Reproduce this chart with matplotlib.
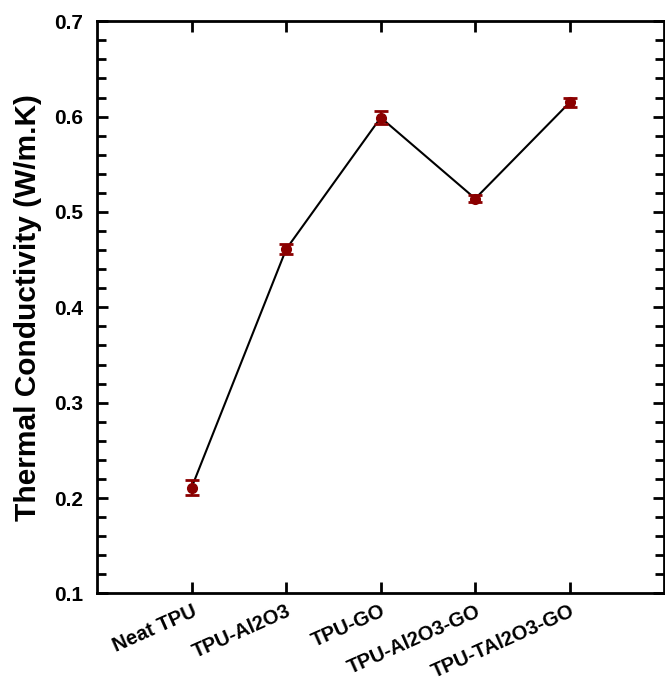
import matplotlib.pyplot as plt
import numpy as np
from matplotlib.ticker import MultipleLocator

plt.rcParams['font.family'] = ['Liberation Sans', 'DejaVu Sans']
plt.rcParams['font.weight'] = 'bold'

samples = ['Neat TPU', 'TPU-Al2O3', 'TPU-GO', 'TPU-Al2O3-GO', 'TPU-TAl2O3-GO']
conductivity = [0.211, 0.461, 0.599, 0.514, 0.615]
error = [0.008, 0.005, 0.007, 0.004, 0.005]

x = np.arange(1, len(samples) + 1)

fig = plt.figure(figsize=(6.65, 6.86), dpi=100)
ax = fig.add_axes([0.146, 0.135, 0.853, 0.834])

ax.plot(x, conductivity, color='black', lw=1.5, zorder=2)
ax.errorbar(x, conductivity, yerr=error, fmt='o', color='#8b0000', ms=7,
            capsize=5, capthick=2, elinewidth=1.5, zorder=3)

ax.set_xlim(0, 6)
ax.set_ylim(0.1, 0.7)
ax.set_xticks(x)
ax.set_xticklabels(samples, rotation=24, ha='right', rotation_mode='anchor',
                   fontsize=14.5, fontweight='bold')
ax.yaxis.set_minor_locator(MultipleLocator(0.02))
ax.set_yticks(np.arange(0.1, 0.71, 0.1))
ax.set_yticklabels(['0.1', '0.2', '0.3', '0.4', '0.5', '0.6', '0.7'],
                   fontsize=15, fontweight='bold')
ax.set_ylabel('Thermal Conductivity (W/m.K)', fontsize=21.5,
              fontweight='bold', labelpad=9)

ax.tick_params(which='both', direction='in', top=True, right=True, width=2)
ax.tick_params(which='major', length=8)
ax.tick_params(which='minor', length=6.5)
ax.tick_params(axis='y', which='major', pad=10)
ax.tick_params(axis='x', which='major', pad=6)
for s in ax.spines.values():
    s.set_linewidth(2)

fig.savefig('out.png', dpi=100)
